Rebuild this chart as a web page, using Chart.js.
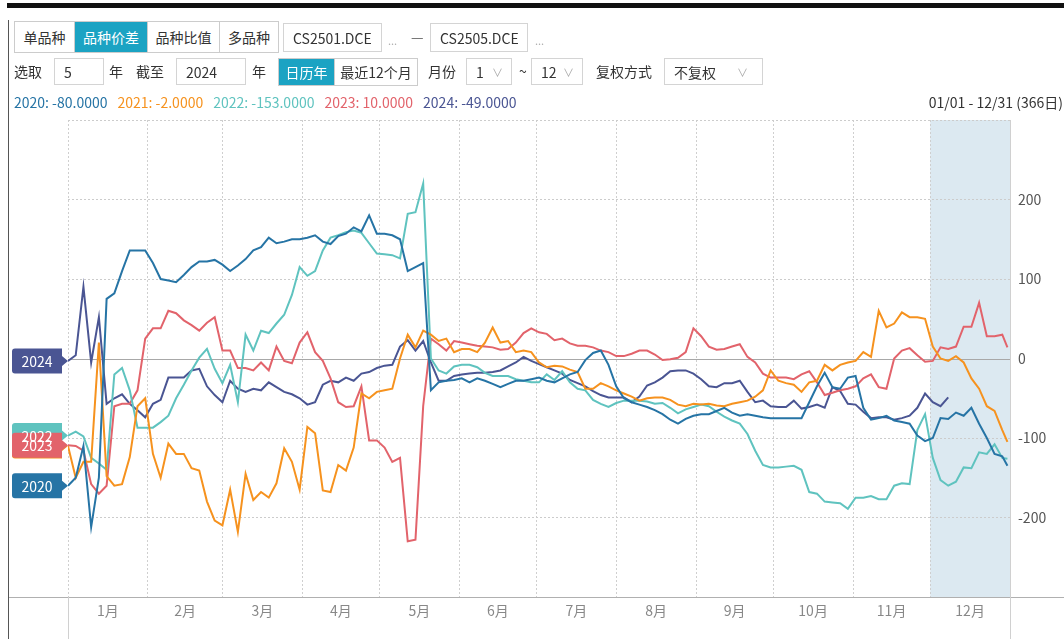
<!DOCTYPE html>
<html lang="zh">
<head>
<meta charset="UTF-8">
<title>CS2501-CS2505 价差</title>
<script src="https://cdn.jsdelivr.net/npm/chart.js@4.4.0/dist/chart.umd.min.js"></script>
<style>
  body { margin:0; width:1064px; height:639px; overflow:hidden; background:#fff; position:relative;
         font-family:"Noto Sans CJK SC","Noto Sans",sans-serif; color:#333; }
  #wrap { position:absolute; left:0; top:0; width:1064px; height:639px; }
  .topbar { position:absolute; left:7px; top:3px; width:1057px; height:5px; background:#111; }
  .lborder { position:absolute; left:8px; top:20px; width:1px; height:619px; background:#555; }
  .grp { position:absolute; display:flex; border:1px solid #ccc; box-sizing:border-box; background:#fff; }
  .grp span { display:flex; align-items:center; justify-content:center; border-left:1px solid #ccc; font-size:14px; box-sizing:border-box; }
  .grp span:first-child { border-left:none; }
  .grp .on { background:#1ba3c3; color:#fff; }
  .box { position:absolute; border:1px solid #d4d4d4; box-sizing:border-box; font-size:14px; display:flex; align-items:center; padding-left:9px; background:#fff; }
  .box .chev { color:#aaa; font-size:11px; position:absolute; right:8px; }
  .txt { position:absolute; font-size:14px; line-height:20px; }
  .dim { color:#aaa; font-size:11px; }
  #legend { position:absolute; left:14px; top:92px; font-size:14px; line-height:20px; white-space:nowrap; }
  #legend span { margin-right:10px; }
  #range { position:absolute; right:1px; top:92px; font-size:14px; line-height:20px; }
</style>
</head>
<body>
<div id="wrap"><canvas id="spreadChart"></canvas></div>
<div class="topbar"></div>
<div class="lborder"></div>

<div class="grp" style="left:14px; top:21px; height:32px;">
  <span style="width:59px">单品种</span><span class="on" style="width:73px">品种价差</span><span style="width:72px">品种比值</span><span style="width:59px">多品种</span>
</div>
<div class="box" style="left:283px; top:23px; width:99px; height:29px;">CS2501.DCE</div>
<div class="txt dim" style="left:388px; top:30px;">...</div>
<div class="txt" style="left:411px; top:26px; color:#666;">—</div>
<div class="box" style="left:430px; top:23px; width:98px; height:29px;">CS2505.DCE</div>
<div class="txt dim" style="left:535px; top:30px;">...</div>

<div class="txt" style="left:14px; top:61px;">选取</div>
<div class="box" style="left:54px; top:58px; width:50px; height:27px;">5</div>
<div class="txt" style="left:109px; top:61px;">年</div>
<div class="txt" style="left:136px; top:61px;">截至</div>
<div class="box" style="left:176px; top:58px; width:70px; height:27px;">2024</div>
<div class="txt" style="left:252px; top:61px;">年</div>
<div class="grp" style="left:278px; top:58px; height:28px;">
  <span class="on" style="width:55px">日历年</span><span style="width:83px">最近12个月</span>
</div>
<div class="txt" style="left:428px; top:61px;">月份</div>
<div class="box" style="left:466px; top:58px; width:46px; height:27px;">1<span class="chev">∨</span></div>
<div class="txt" style="left:519px; top:61px;">~</div>
<div class="box" style="left:531px; top:58px; width:52px; height:27px;">12<span class="chev">∨</span></div>
<div class="txt" style="left:596px; top:61px;">复权方式</div>
<div class="box" style="left:664px; top:58px; width:99px; height:27px;">不复权<span class="chev" style="right:14px">∨</span></div>

<div id="legend"></div>
<div id="range">01/01 - 12/31 (366日)</div>

<script>
// day of year (0 = Jan 1), sampled every 3 days
const days = [
  0, 3, 6, 9, 12, 15, 18, 21, 24, 27,
  30, 33, 36, 39, 42, 45, 48, 51, 54, 57,
  60, 63, 66, 69, 72, 75, 78, 81, 84, 87,
  90, 93, 96, 99, 102, 105, 108, 111, 114, 117,
  120, 123, 126, 129, 132, 135, 138, 141, 144, 147,
  150, 153, 156, 159, 162, 165, 168, 171, 174, 177,
  180, 183, 186, 189, 192, 195, 198, 201, 204, 207,
  210, 213, 216, 219, 222, 225, 228, 231, 234, 237,
  240, 243, 246, 249, 252, 255, 258, 261, 264, 267,
  270, 273, 276, 279, 282, 285, 288, 291, 294, 297,
  300, 303, 306, 309, 312, 315, 318, 321, 324, 327,
  330, 333, 336, 339, 342, 345, 348, 351, 354, 357,
  360, 363, 365
];

const s2020 = [
  -160, -150, -110, -212, -150, 75, 82, 110, 136, 136,
  136, 120, 100, 98, 96, 105, 115, 122, 122, 124,
  118, 110, 117, 125, 136, 140, 152, 145, 147, 150,
  150, 152, 155, 147, 144, 154, 157, 165, 160, 180,
  157, 157, 155, 150, 110, 115, 120, -40, -30, -28,
  -27, -25, -30, -25, -28, -32, -36, -32, -28, -28,
  -26, -24, -28, -30, -25, -20, -17, -2, 7, 10,
  -8, -35, -50, -55, -58, -61, -65, -70, -77, -82,
  -76, -72, -70, -70, -66, -62, -68, -72, -70, -72,
  -74, -75, -75, -75, -75, -75, -55, -35, -18, -36,
  -38, -24, -22, -62, -77, -75, -72, -78, -80, -82,
  -97, -104, -100, -75, -76, -68, -72, -62, -82, -100,
  -120, -123, -135
];

const s2021 = [
  -110, -150, -130, -130, 20, -148, -160, -158, -124, -60,
  -50, -120, -150, -107, -120, -120, -138, -141, -180, -204,
  -210, -165, -218, -145, -178, -168, -175, -157, -113, -130,
  -165, -86, -94, -166, -168, -134, -141, -112, -44, -50,
  -42, -40, -38, 0, 30, 14, 35, 30, 22, 25,
  8, 12, 12, 8, 20, 39, 20, 22, 8, 10,
  8, -5, -11, -9, -10, -14, -17, -38, -38, -31,
  -35, -40, -44, -48, -53, -50, -49, -49, -52, -58,
  -60, -57, -58, -57, -59, -60, -57, -55, -53, -48,
  -40, -15, -28, -31, -33, -42, -30, -28, -8, -15,
  -8, -5, -3, 8, 2, 60, 39, 44, 58, 52,
  52, 50, 15, 0, -3, 3, -5, -25, -38, -60,
  -66, -90, -105
];

const s2022 = [
  -97, -92, -98, -125, -132, -140, -20, -12, -40, -87,
  -87, -87, -80, -72, -50, -33, -15, 1, 12, -13,
  -31, -8, -55, 30, 10, 35, 32, 44, 55, 80,
  115, 104, 110, 136, 152, 155, 159, 161, 158, 145,
  132, 131, 130, 126, 182, 184, 220, 0, -15, -19,
  -10, -8, -8, -11, -18, -22, -22, -22, -26, -28,
  -30, -30, -20, -27, -16, -30, -38, -40, -52, -57,
  -61, -56, -53, -53, -53, -54, -57, -56, -62, -69,
  -64, -61, -58, -60, -67, -73, -78, -82, -95, -116,
  -134, -137, -137, -136, -135, -140, -168, -170, -180, -181,
  -182, -189, -175, -175, -173, -177, -177, -160, -157, -158,
  -90, -70, -125, -153, -160, -155, -137, -138, -118, -120,
  -108, -125, -126
];

const s2023 = [
  -109, -110, -116, -158, -170, -160, -60, -57, -57, -40,
  25, 38, 38, 60, 57, 48, 42, 35, 45, 52,
  10, 10, -12, -12, -15, -5, -15, 15, -3, -6,
  20, 33, 8, -3, -25, -55, -61, -60, -35, -103,
  -103, -112, -130, -125, -230, -228, -60, 25, 18, 10,
  22, 20, 18, 16, 15, 14, 11, 12, 20, 32,
  38, 33, 31, 23, 25, 19, 16, 16, 14, 10,
  8, 3, 3, 6, 10, 10, 5, -2, -1, 1,
  8, 38, 28, 15, 11, 12, 15, 18, 2, -5,
  -19, -24, -24, -24, -26, -20, -16, -30, -46, -43,
  -40, -38, -35, -25, -20, -36, -38, 0, 10, 13,
  4, -4, -3, 14, 12, 15, 40, 40, 70, 28,
  28, 30, 14
];

const s2024 = [
  -3, 4, 90, -5, 52, -57, -50, -45, -57, -65,
  -74, -57, -52, -24, -24, -24, -15, -13, -35, -46,
  -55, -28, -38, -42, -38, -40, -30, -36, -42, -45,
  -50, -58, -55, -33, -28, -30, -24, -28, -19, -17,
  -12, -9, -8, 15, 23, 10, 22, -5, -28, -28,
  -22, -20, -19, -18, -18, -17, -15, -10, -5, 2,
  -3, -7, -11, -15, -19, -27, -31, -35, -41, -46,
  -49, -49, -49, -55, -48, -34, -30, -24, -16, -15,
  -15, -19, -26, -35, -36, -31, -31, -28, -42, -55,
  -53, -60, -61, -61, -53, -63, -61, -58, -62, -36,
  -41, -57, -58, -67, -75, -74, -74, -77, -75, -72,
  -62, -44, -55, -60, -49, null, null, null, null, null,
  null, null, null
];

const seriesNames = ['2020', '2021', '2022', '2023', '2024'];
const seriesValues = [s2020, s2021, s2022, s2023, s2024];
const seriesColors = ['#2674a5', '#f6921e', '#5fc3bf', '#e2636b', '#4a5593'];
const legendValues = [-80, -2, -153, 10, -49];
const tagOrder = [1, 0, 2, 3, 4]; // drawing order of the start tags

const monthStarts = [0, 31, 60, 91, 121, 152, 182, 213, 244, 274, 305, 335, 366];
const monthLabels = ['1月', '2月', '3月', '4月', '5月', '6月', '7月', '8月', '9月', '10月', '11月', '12月'];
const yTicks = [-300, -200, -100, 0, 100, 200, 300];
const shadeFrom = 335, shadeTo = 366;

// legend row
document.getElementById('legend').innerHTML = seriesNames.map((n, i) =>
  '<span style="color:' + seriesColors[i] + '">' + n + ': ' + legendValues[i].toFixed(4) + '</span>').join('');

const monthMids = monthLabels.map((m, i) => (monthStarts[i] + monthStarts[i + 1]) / 2);
const xTickValues = monthStarts.concat(monthMids).sort((a, b) => a - b);

const decor = {
  id: 'decor',
  beforeDraw(chart) {
    const { ctx, chartArea: a, scales: { x } } = chart;
    const x0 = x.getPixelForValue(shadeFrom), x1 = x.getPixelForValue(shadeTo);
    ctx.save();
    ctx.fillStyle = '#dce9f1';
    ctx.fillRect(x0, a.top, x1 - x0, a.bottom - a.top);
    ctx.restore();
  },
  beforeDatasetsDraw(chart) {
    const { ctx, chartArea: a, scales: { x, y } } = chart;
    ctx.save();
    ctx.lineWidth = 1;
    // zero line
    const y0 = Math.round(y.getPixelForValue(0)) + 0.5;
    ctx.strokeStyle = '#a8a8a8';
    ctx.beginPath(); ctx.moveTo(a.left, y0); ctx.lineTo(a.right, y0); ctx.stroke();
    // bottom axis line across the panel
    const yb = Math.round(a.bottom) + 0.5;
    ctx.strokeStyle = '#b0b0b0';
    ctx.beginPath(); ctx.moveTo(8, yb); ctx.lineTo(chart.width, yb); ctx.stroke();
    // end ticks below the axis and right border
    ctx.strokeStyle = '#d0d0d0';
    [a.left, a.right].forEach(px => {
      const xx = Math.round(px) + 0.5;
      ctx.beginPath(); ctx.moveTo(xx, a.bottom); ctx.lineTo(xx, chart.height); ctx.stroke();
    });
    const xr = Math.round(a.right) + 0.5;
    ctx.beginPath(); ctx.moveTo(xr, a.top); ctx.lineTo(xr, a.bottom); ctx.stroke();
    ctx.restore();
  },
  afterDatasetsDraw(chart) {
    const { ctx, scales: { y } } = chart;
    const l = 12, r = 62, h = 25, tip = 68, rad = 3;
    ctx.save();
    // tag shapes first
    tagOrder.forEach(i => {
      const cy = y.getPixelForValue(seriesValues[i][0]);
      const t = cy - h / 2, b = cy + h / 2;
      ctx.fillStyle = seriesColors[i];
      ctx.beginPath();
      ctx.moveTo(l + rad, t);
      ctx.lineTo(r, t);
      ctx.lineTo(r, cy - 5);
      ctx.lineTo(tip, cy);
      ctx.lineTo(r, cy + 5);
      ctx.lineTo(r, b);
      ctx.lineTo(l + rad, b);
      ctx.quadraticCurveTo(l, b, l, b - rad);
      ctx.lineTo(l, t + rad);
      ctx.quadraticCurveTo(l, t, l + rad, t);
      ctx.closePath();
      ctx.fill();
    });
    // then the labels on top of all tags
    ctx.font = '14px "Noto Sans CJK SC", "Noto Sans", sans-serif';
    ctx.textAlign = 'center';
    ctx.textBaseline = 'middle';
    ctx.fillStyle = '#fff';
    tagOrder.forEach(i => {
      if (i === 1) return; // 2021 tag sits fully under 2023
      const cy = y.getPixelForValue(seriesValues[i][0]);
      ctx.fillText(seriesNames[i], (l + r) / 2, cy + 1);
    });
    ctx.restore();
  }
};

Chart.defaults.font.family = '"Noto Sans CJK SC", "Noto Sans", sans-serif';

const ctx = document.getElementById('spreadChart').getContext('2d');
const spreadChart = new Chart(ctx, {
  type: 'line',
  data: {
    datasets: seriesNames.map((n, i) => ({
      label: n,
      data: days.map((d, k) => ({ x: d, y: seriesValues[i][k] })),
      borderColor: seriesColors[i],
      backgroundColor: seriesColors[i],
      borderWidth: 2,
      pointRadius: 0,
      tension: 0,
      fill: false,
      spanGaps: false
    }))
  },
  options: {
    responsive: true,
    maintainAspectRatio: false,
    animation: false,
    layout: { padding: { top: 120, left: 68, right: 0, bottom: 0 } },
    plugins: { legend: { display: false }, tooltip: { enabled: false } },
    scales: {
      x: {
        type: 'linear',
        min: 0,
        max: 366,
        afterBuildTicks: s => { s.ticks = xTickValues.map(v => ({ value: v })); },
        afterFit: s => { s.height = 42; },
        grid: {
          drawTicks: false,
          color: c => (c.tick && monthStarts.includes(c.tick.value)) ? '#cfcfcf' : 'rgba(0,0,0,0)'
        },
        border: { display: false, dash: [2, 2] },
        ticks: {
          autoSkip: false,
          maxRotation: 0,
          padding: 5,
          color: '#888',
          font: { size: 14 },
          callback: v => {
            const k = monthMids.indexOf(v);
            return k >= 0 ? monthLabels[k] : '';
          }
        }
      },
      y: {
        position: 'right',
        min: -300,
        max: 300,
        afterBuildTicks: s => { s.ticks = yTicks.map(v => ({ value: v })); },
        afterFit: s => { s.width = 54; },
        grid: {
          drawTicks: false,
          color: c => (c.tick && (c.tick.value === 0 || c.tick.value === -300)) ? 'rgba(0,0,0,0)' : '#cccccc'
        },
        border: { display: false, dash: [2, 2] },
        ticks: {
          padding: 8,
          color: '#555',
          font: { size: 14 },
          callback: v => Math.abs(v) === 300 ? '' : v
        }
      }
    }
  },
  plugins: [decor]
});
</script>
</body>
</html>
